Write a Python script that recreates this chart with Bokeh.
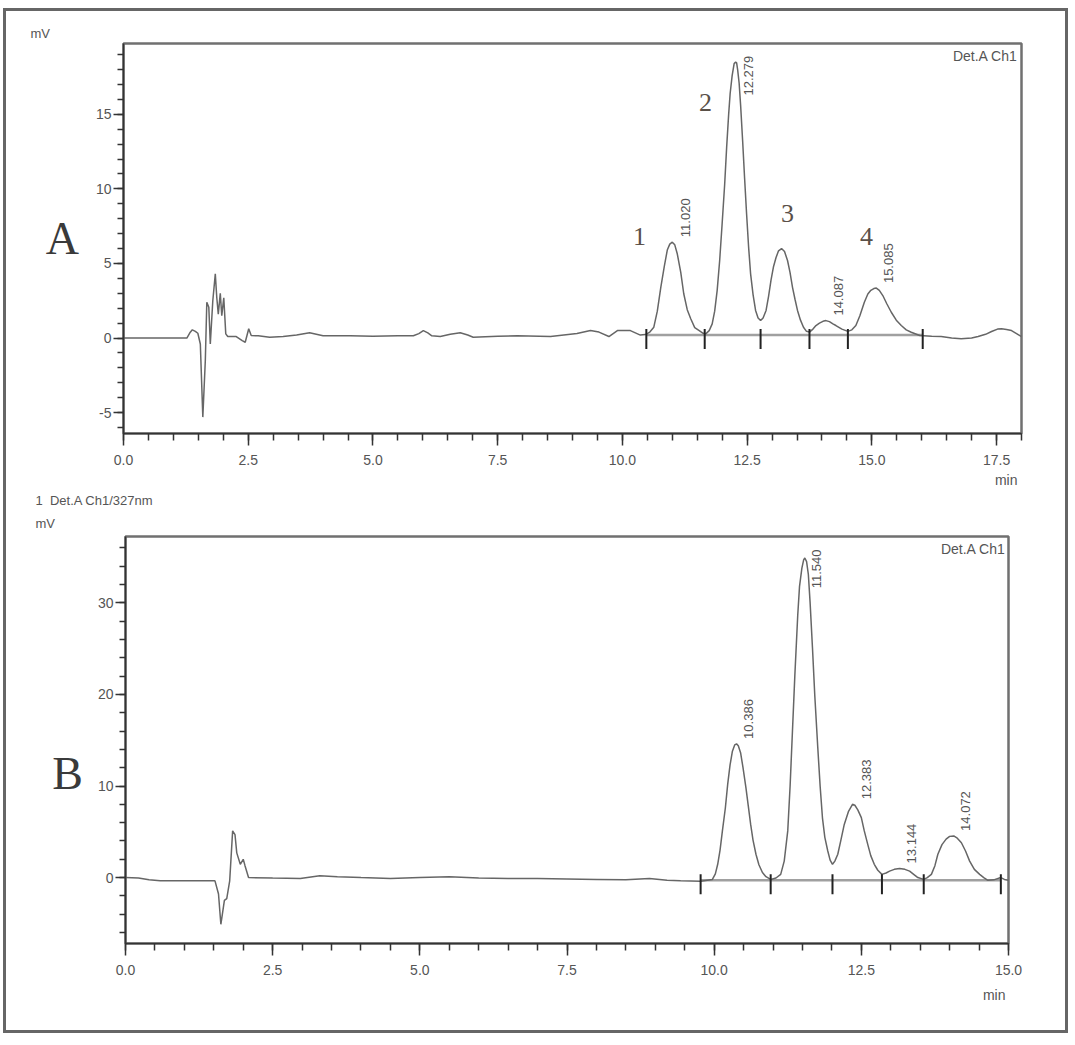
import numpy as np
from bokeh.plotting import figure
from bokeh.layouts import column
from bokeh.models import FixedTicker, Label, NumeralTickFormatter, Range1d, Title
from bokeh.embed import file_html
from bokeh.resources import INLINE
from bokeh.core.properties import value

# ---------------- data : chromatogram A ----------------
time_a = [0.0, 0.5, 1.0, 1.27, 1.33, 1.38, 1.44, 1.49, 1.54, 1.59, 1.64, 1.67, 1.71, 1.74,
          1.79, 1.84, 1.87, 1.90, 1.94, 1.97, 2.01, 2.05, 2.09, 2.26, 2.38, 2.44, 2.51, 2.56,
          2.70, 2.93, 3.20, 3.47, 3.73, 4.0, 4.54, 5.0, 5.5, 5.81, 5.92, 6.01, 6.10, 6.18,
          6.35, 6.55, 6.75, 6.90, 7.01, 7.5, 7.89, 8.56, 9.09, 9.36, 9.53, 9.73, 9.90, 10.16,
          10.36, 10.46, 10.55, 10.63, 10.70, 10.77, 10.84, 10.90, 10.95, 11.0, 11.05, 11.10,
          11.17, 11.23, 11.30, 11.37, 11.45, 11.54, 11.62, 11.67, 11.74, 11.80, 11.85, 11.90,
          11.95, 12.0, 12.05, 12.09, 12.13, 12.16, 12.20, 12.24, 12.27, 12.29, 12.31, 12.34,
          12.37, 12.41, 12.45, 12.49, 12.53, 12.57, 12.62, 12.67, 12.72, 12.77, 12.82, 12.88,
          12.93, 12.98, 13.03, 13.08, 13.13, 13.19, 13.25, 13.31, 13.36, 13.41, 13.46, 13.51,
          13.57, 13.63, 13.69, 13.75, 13.82, 13.88, 13.95, 14.02, 14.08, 14.15, 14.22, 14.28,
          14.40, 14.52, 14.60, 14.68, 14.76, 14.85, 14.92, 14.98, 15.04, 15.09, 15.15, 15.22,
          15.30, 15.39, 15.49, 15.59, 15.69, 15.79, 15.96, 16.2, 16.39, 16.6, 16.79, 17.0,
          17.13, 17.28, 17.40, 17.52, 17.6, 17.7, 17.8, 17.9, 18.0]
signal_a = [0.0, 0.0, 0.0, 0.0, 0.35, 0.55, 0.45, 0.32, -0.4, -5.3, -1.5, 2.4, 2.07, -0.4,
            2.5, 4.3, 2.7, 1.6, 3.0, 1.5, 2.7, 0.28, 0.1, 0.1, -0.17, -0.28, 0.62, 0.17,
            0.15, 0.05, 0.1, 0.2, 0.35, 0.15, 0.15, 0.12, 0.15, 0.15, 0.3, 0.5, 0.35, 0.15,
            0.1, 0.25, 0.35, 0.2, 0.05, 0.12, 0.15, 0.1, 0.3, 0.5, 0.4, 0.1, 0.5, 0.5,
            0.2, 0.23, 0.4, 0.73, 1.8, 3.4, 4.8, 5.9, 6.3, 6.43, 6.25, 5.65,
            4.4, 2.97, 1.9, 1.29, 0.7, 0.5, 0.32, 0.28, 0.5, 0.95, 1.8, 3.2,
            5.2, 7.7, 10.3, 12.8, 15.0, 16.4, 17.6, 18.4, 18.5, 18.45, 18.0, 17.1,
            15.6, 13.25, 10.7, 8.3, 6.1, 4.3, 2.9, 1.85, 1.35, 1.17, 1.35, 1.85,
            2.8, 3.9, 4.8, 5.4, 5.85, 6.0, 5.8, 5.2, 4.4, 3.4, 2.6, 1.85,
            1.2, 0.72, 0.45, 0.4, 0.6, 0.84, 1.0, 1.12, 1.17, 1.1, 0.95, 0.84,
            0.6, 0.45, 0.55, 0.84, 1.5, 2.4, 2.95, 3.2, 3.32, 3.35, 3.2, 2.85,
            2.3, 1.73, 1.2, 0.84, 0.55, 0.39, 0.17, 0.12, 0.1, 0.0, -0.05, 0.0,
            0.1, 0.25, 0.44, 0.6, 0.62, 0.58, 0.5, 0.3, 0.1]
peak_rt_a = [11.020, 12.279, 14.087, 15.085]
peak_h_a = [6.43, 18.5, 1.17, 3.35]
peak_label_a = ["11.020", "12.279", "14.087", "15.085"]
marks_a = [10.48, 11.65, 12.77, 13.75, 14.52, 16.02]
base_a = 0.2
compound_no = ["1", "2", "3", "4"]

# ---------------- data : chromatogram B ----------------
time_b = [0.0, 0.22, 0.40, 0.59, 1.0, 1.52, 1.58, 1.62, 1.68, 1.72, 1.77, 1.82, 1.86, 1.89,
          1.95, 2.00, 2.03, 2.09, 2.5, 2.97, 3.3, 3.6, 4.0, 4.5, 5.0, 5.5, 6.0, 6.5, 7.0,
          7.5, 8.0, 8.5, 8.9, 9.2, 9.43, 9.77, 9.97, 10.02, 10.06, 10.10, 10.14, 10.19,
          10.23, 10.27, 10.31, 10.35, 10.38, 10.41, 10.45, 10.49, 10.54, 10.58, 10.62,
          10.66, 10.71, 10.76, 10.82, 10.88, 10.96, 11.05, 11.13, 11.19, 11.25, 11.29,
          11.33, 11.37, 11.42, 11.45, 11.49, 11.52, 11.54, 11.57, 11.60, 11.63, 11.67,
          11.71, 11.76, 11.80, 11.84, 11.88, 11.93, 11.97, 12.01, 12.05, 12.10, 12.15,
          12.21, 12.28, 12.35, 12.39, 12.44, 12.50, 12.55, 12.61, 12.66, 12.72, 12.78,
          12.85, 12.92, 12.98, 13.06, 13.15, 13.24, 13.32, 13.40, 13.46, 13.56, 13.62,
          13.69, 13.75, 13.80, 13.87, 13.94, 14.0, 14.07, 14.13, 14.20, 14.27, 14.34,
          14.42, 14.51, 14.58, 14.65, 14.75, 14.87, 14.93, 15.0]
signal_b = [0.0, -0.05, -0.25, -0.36, -0.36, -0.36, -1.8, -5.1, -2.5, -2.3, -0.36, 5.1, 4.7, 2.7,
            1.45, 2.0, 1.3, 0.0, -0.05, -0.1, 0.2, 0.1, 0.0, -0.1, 0.0, 0.1, -0.05, -0.1, -0.1,
            -0.15, -0.2, -0.25, -0.1, -0.3, -0.36, -0.4, -0.2, 0.4, 1.45, 3.0, 5.1, 7.6,
            10.2, 12.3, 13.8, 14.5, 14.6, 14.4, 13.6, 12.0, 9.8, 7.8, 5.8,
            4.1, 2.55, 1.4, 0.55, 0.1, -0.2, -0.05, 0.35, 1.8, 5.1, 10.0,
            16.0, 22.0, 28.7, 31.8, 33.8, 34.7, 34.9, 34.5, 33.1, 30.0, 25.1,
            19.8, 14.2, 10.0, 6.5, 4.4, 2.9, 1.9, 1.45, 1.8, 2.55, 4.0,
            5.8, 7.2, 8.0, 7.9, 7.4, 6.55, 5.1, 3.6, 2.4, 1.45, 0.8,
            0.35, 0.5, 0.7, 0.9, 1.0, 0.9, 0.7, 0.3, 0.0, -0.2, 0.0,
            0.35, 1.3, 2.55, 3.6, 4.2, 4.5, 4.55, 4.3, 3.8, 2.9, 1.8,
            0.9, 0.35, 0.0, -0.3, -0.25, 0.0, -0.2, -0.3]
peak_rt_b = [10.386, 11.540, 12.383, 13.144, 14.072]
peak_h_b = [14.6, 34.9, 8.0, 1.0, 4.55]
peak_label_b = ["10.386", "11.540", "12.383", "13.144", "14.072"]
marks_b = [9.77, 10.96, 12.01, 12.85, 13.56, 14.87]
base_b = -0.3

x_ticks_a = [0.0, 2.5, 5.0, 7.5, 10.0, 12.5, 15.0, 17.5]
x_ticks_b = [0.0, 2.5, 5.0, 7.5, 10.0, 12.5, 15.0]
y_ticks_a = [-5, 0, 5, 10, 15]
y_ticks_b = [0, 10, 20, 30]

# ---------------- styling helpers ----------------
SANS = "Liberation Sans"
SERIF = "Liberation Serif"
TRACE = "#666666"
TXT = "#555555"
W = 1059


def make_fig(height, mb_left, mb_right, mb_top, mb_bottom, xr, yr, xt, xminor, yt, yminor,
             letter, letter_standoff):
    p = figure(width=W, height=height, x_range=Range1d(*xr), y_range=Range1d(*yr),
               output_backend="svg", toolbar_location=None,
               min_border_left=mb_left, min_border_right=mb_right,
               min_border_top=mb_top, min_border_bottom=mb_bottom)
    p.frame_align = False
    p.grid.visible = False
    p.outline_line_color = "#707070"
    p.outline_line_width = 2.5
    p.background_fill_color = "white"
    p.border_fill_color = "white"
    p.xaxis.ticker = FixedTicker(ticks=xt, minor_ticks=xminor)
    p.yaxis.ticker = FixedTicker(ticks=yt, minor_ticks=yminor)
    p.xaxis.formatter = NumeralTickFormatter(format="0.0")
    p.yaxis.formatter = NumeralTickFormatter(format="0")
    for ax in (p.xaxis[0], p.yaxis[0]):
        ax.axis_line_color = "#333333"
        ax.axis_line_width = 1.6
        ax.major_tick_line_color = "#333333"
        ax.major_tick_line_width = 1.5
        ax.minor_tick_line_color = "#333333"
        ax.minor_tick_line_width = 1.5
        ax.major_label_text_font = SANS
        ax.major_label_text_font_size = "14px"
        ax.major_label_text_color = TXT
        ax.major_tick_in = 0
        ax.minor_tick_in = 0
    p.xaxis.major_tick_out = 12
    p.xaxis.minor_tick_out = 7
    p.xaxis.major_label_standoff = 9
    p.yaxis.major_tick_out = 10
    p.yaxis.minor_tick_out = 6
    p.yaxis.major_label_standoff = 2
    # big panel letter as a horizontal y-axis label
    p.yaxis.axis_label = letter
    p.yaxis.axis_label_orientation = "horizontal"
    p.yaxis.axis_label_text_font = SERIF
    p.yaxis.axis_label_text_font_style = "normal"
    p.yaxis.axis_label_text_font_size = "46px"
    p.yaxis.axis_label_text_line_height = 1.3
    p.yaxis.axis_label_text_color = "#3a3a3a"
    p.yaxis.axis_label_standoff = letter_standoff
    return p


def add_label(p, x, y, text, size, align="left", font=SANS, color=TXT):
    p.add_layout(Label(x=x, y=y, text=text, text_font=font, text_font_size=size,
                       text_color=color, text_align=align, text_baseline="middle"))


def add_title(p, text, side, align, offset, standoff, size="13px"):
    p.add_layout(Title(text=text, align=align, offset=offset, standoff=standoff,
                       text_font=SANS, text_font_size=size, text_font_style="normal",
                       text_color=TXT), side)


def draw_chrom(p, t, s, rts, hs, labels, marks, base, ppu, ymax):
    p.line([marks[0], marks[-1]], [base, base], line_color="#a0a0a0", line_width=2.5)
    p.line(t, s, line_color=TRACE, line_width=1.5)
    p.segment(x0=marks, y0=[base - 14 / ppu] * len(marks), x1=marks,
              y1=[base + 6 / ppu] * len(marks), line_color="#222222", line_width=2)
    ly = [min(h, ymax - 57 / ppu) for h in hs]
    p.text(x=rts, y=ly, text=labels, angle=np.pi / 2, x_offset=12, y_offset=-5,
           text_align="left", text_baseline="middle", text_font=value(SANS),
           text_font_size="13px", text_color=TXT)


# ---------------- chromatogram A ----------------
xr_a, yr_a = (0, 18), (-6.4, 19.75)
pa = make_fig(479, 117, 44, 32, 57, xr_a, yr_a, x_ticks_a,
              list(np.arange(0, 18.01, 0.5)), y_ticks_a, list(range(-6, 20)), "A", 14)
ppu_a = 390 / (yr_a[1] - yr_a[0])
pxu_a = 898 / (xr_a[1] - xr_a[0])


def at_a(px, py):
    return (xr_a[0] + (px - 123) / pxu_a, yr_a[1] - (py - 43) / ppu_a)


draw_chrom(pa, time_a, signal_a, peak_rt_a, peak_h_a, peak_label_a, marks_a, base_a, ppu_a, yr_a[1])
add_label(pa, *at_a(1017, 55), "Det.A Ch1", "14px", align="right")
for txt, (px, py) in zip(compound_no, [(639, 236), (705, 102), (787, 213), (866, 236)]):
    add_label(pa, *at_a(px, py), txt, "26px", align="center", font=SERIF, color="#5a5048")
add_title(pa, "mV", "above", "left", -93, 5)
add_title(pa, "min", "below", "right", 4, 4, "14px")

# ---------------- chromatogram B ----------------
xr_b, yr_b = (0, 15), (-7.2, 37.25)
pb = make_fig(540, 119, 57, 45, 87, xr_b, yr_b, x_ticks_b,
              list(np.arange(0, 15.01, 0.5)), y_ticks_b, list(range(-6, 37, 2)),
              "\u00a0\nB", 12)
ppu_b = 408 / (yr_b[1] - yr_b[0])
pxu_b = 883 / (xr_b[1] - xr_b[0])


def at_b(px, py):
    return (xr_b[0] + (px - 125) / pxu_b, yr_b[1] - (py - 535) / ppu_b)


draw_chrom(pb, time_b, signal_b, peak_rt_b, peak_h_b, peak_label_b, marks_b, base_b, ppu_b, yr_b[1])
add_label(pb, *at_b(1005, 548), "Det.A Ch1", "14px", align="right")
add_title(pb, "mV", "above", "left", -90, 12)
add_title(pb, "1\u00a0\u00a0Det.A Ch1/327nm", "above", "left", -90, 0)
add_title(pb, "min", "below", "right", 3, 14, "14px")

layout = column(pa, pb, styles={"border": "3px solid #666666", "background-color": "white",
                                "margin-left": "3px", "margin-top": "8px"})

open("out.html", "w").write(file_html(layout, INLINE))
